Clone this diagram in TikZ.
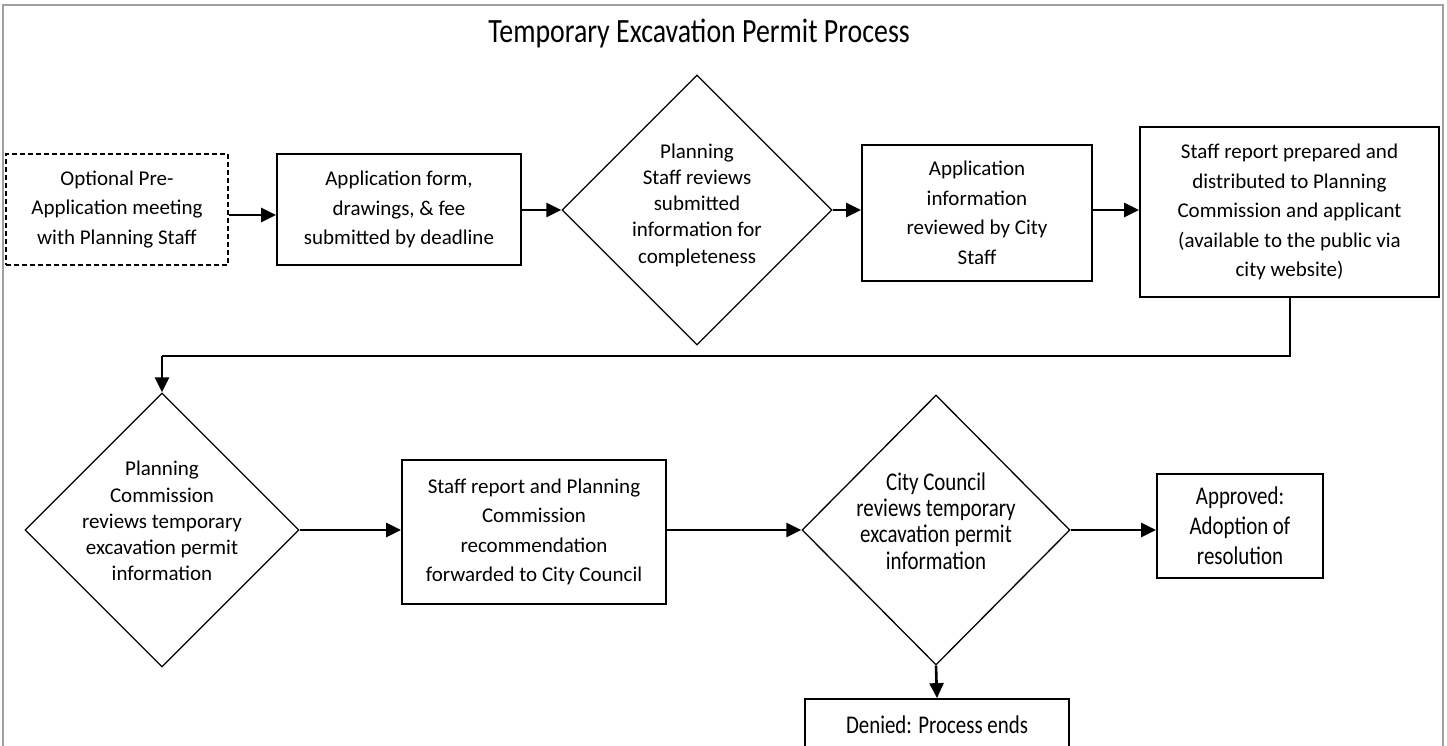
\documentclass[tikz,border=0pt]{standalone}
\usepackage{fontspec}
\setmainfont{Carlito}
\newfontfamily\narrowfont[FakeStretch=0.82]{Carlito}
\usetikzlibrary{shapes.geometric,arrows.meta}
\definecolor{framegray}{RGB}{160,160,160}
\tikzset{
  boxstyle/.style={draw=black, line width=1.8pt, inner sep=0pt, align=center,
    font=\fontsize{21}{29.5}\selectfont},
  narrowbox/.style={boxstyle, font=\narrowfont\fontsize{25.5}{30}\selectfont},
  dashbox/.style={boxstyle, line width=1.3pt, dash pattern=on 5pt off 3pt},
  dia/.style={draw=black, diamond, line width=1.3pt, inner sep=0pt},
  diatext/.style={align=center, inner sep=0pt, font=\fontsize{21}{26.2}\selectfont},
  narrowdiatext/.style={diatext, font=\narrowfont\fontsize{25.5}{26.2}\selectfont},
  arr/.style={line width=2.6pt, -{Triangle[length=15pt,width=14pt]}},
  link/.style={line width=2pt},
}
\begin{document}
\begin{tikzpicture}[x=1pt,y=-1pt]
\useasboundingbox (0,0) rectangle (1447,745);
\fill[white] (0,0) rectangle (1447,745);
\draw[framegray, line width=1.5pt] (3,760) -- (3,5) -- (1443,5) -- (1443,760);

\node[inner sep=0pt, font=\narrowfont\fontsize{34}{36}\selectfont] (title) at (699,33) {Temporary Excavation Permit Process};

% row 1
\node[dashbox, minimum width=222pt, minimum height=111pt] (b1) at (117,209.5)
  {Optional Pre-\\Application meeting\\with Planning Staff};
\node[boxstyle, minimum width=244pt, minimum height=111pt] (b2) at (399,209.5)
  {Application form,\\drawings, \& fee\\submitted by deadline};
\node[dia, minimum width=270pt, minimum height=270pt] (d1) at (697,210) {};
\node[diatext] (d1t) at (697,205)
  {Planning\\Staff reviews\\submitted\\information for\\completeness};
\node[boxstyle, minimum width=230pt, minimum height=136pt] (b3) at (977,213)
  {Application\\information\\reviewed by City\\Staff};
\node[boxstyle, minimum width=299pt, minimum height=170pt] (b4) at (1289.5,212)
  {Staff report prepared and\\distributed to Planning\\Commission and applicant\\(available to the public via\\city website)};

% row 2
\node[dia, minimum width=274pt, minimum height=274pt] (d2) at (162,530) {};
\node[diatext] (d2t) at (162,521)
  {Planning\\Commission\\reviews temporary\\excavation permit\\information};
\node[boxstyle, minimum width=264pt, minimum height=144pt] (b5) at (534,532)
  {Staff report and Planning\\Commission\\recommendation\\forwarded to City Council};
\node[dia, minimum width=268pt, minimum height=270pt] (d3) at (936,530) {};
\node[narrowdiatext] (d3t) at (936,521)
  {City Council\\reviews temporary\\excavation permit\\information};
\node[narrowbox, minimum width=166pt, minimum height=104pt] (ap) at (1240,526)
  {Approved:\\Adoption of\\resolution};
\node[narrowbox, minimum width=264pt, minimum height=52pt] (dn) at (937,725)
  {Denied: Process ends};

\coordinate (c1) at (1289.5,356);
\coordinate (c2) at (162,356);

% connectors
\draw[arr] (b1.east |- 0,215) -- (b2.west |- 0,215);
\draw[arr] (b2.east |- d1.west) -- (d1.west);
\draw[arr] (d1.east) -- (b3.west |- d1.east);
\draw[arr] (b3.east |- d1.east) -- (b4.west |- d1.east);
\draw[link] (b4.south) -- (c1) -- (c2);
\draw[arr] (c2) -- (d2.north);
\draw[arr] (d2.east) -- (b5.west |- d2.east);
\draw[arr] (b5.east |- d3.west) -- (d3.west);
\draw[arr] (d3.east) -- (ap.west |- d3.east);
\draw[arr] (d3.south) -- (dn.north);
\end{tikzpicture}
\end{document}
